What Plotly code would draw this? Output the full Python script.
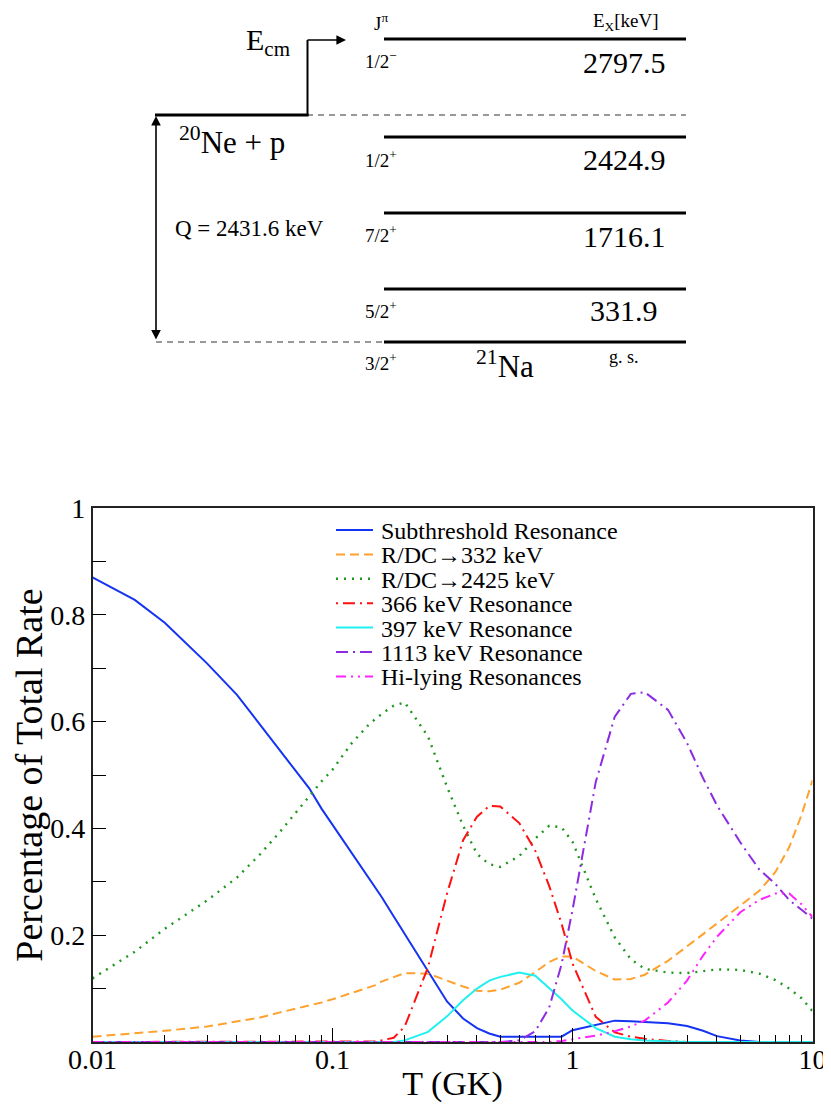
import plotly.graph_objects as go

# ---------------- data ----------------
T = [0.01, 0.015, 0.02, 0.03, 0.04, 0.05, 0.06, 0.07, 0.08, 0.09, 0.1, 0.11, 0.12, 0.13,
     0.14, 0.15, 0.16, 0.18, 0.2, 0.25, 0.3, 0.35, 0.4, 0.45, 0.5, 0.6, 0.7, 0.8, 0.9, 1.0,
     1.25, 1.5, 1.75, 2.0, 2.5, 3.0, 3.5, 4.0, 5.0, 6.0, 7.0, 8.0, 9.0, 10.0]

subthreshold = [0.870, 0.828, 0.785, 0.709, 0.650, 0.593, 0.548, 0.509, 0.475, 0.437, 0.407,
                0.380, 0.355, 0.332, 0.311, 0.291, 0.272, 0.235, 0.202, 0.133, 0.076, 0.044,
                0.026, 0.016, 0.010, 0.010, 0.010, 0.010, 0.010, 0.022, 0.032, 0.040, 0.039,
                0.038, 0.035, 0.030, 0.021, 0.011, 0.003, 0.0, 0.0, 0.0, 0.0, 0.0]

rdc_332 = [0.010, 0.016, 0.021, 0.029, 0.038, 0.046, 0.055, 0.062, 0.068, 0.074, 0.080,
           0.086, 0.092, 0.097, 0.102, 0.106, 0.113, 0.122, 0.129, 0.128, 0.115, 0.104,
           0.096, 0.095, 0.098, 0.111, 0.131, 0.150, 0.160, 0.160, 0.133, 0.117, 0.118,
           0.126, 0.152, 0.180, 0.202, 0.222, 0.255, 0.283, 0.318, 0.365, 0.425, 0.490]

rdc_2425 = [0.119, 0.169, 0.212, 0.265, 0.308, 0.352, 0.392, 0.428, 0.460, 0.488, 0.510,
            0.535, 0.559, 0.576, 0.592, 0.604, 0.614, 0.630, 0.636, 0.572, 0.478, 0.405,
            0.352, 0.333, 0.328, 0.348, 0.381, 0.405, 0.402, 0.375, 0.268, 0.196, 0.155,
            0.137, 0.130, 0.129, 0.133, 0.136, 0.135, 0.128, 0.116, 0.100, 0.082, 0.058]

res_366 = [0.0, 0.0, 0.0, 0.0, 0.0, 0.0, 0.0, 0.0, 0.0, 0.0, 0.0, 0.0, 0.0, 0.0, 0.0,
           0.001, 0.003, 0.008, 0.029, 0.140, 0.278, 0.378, 0.422, 0.442, 0.441, 0.410,
           0.358, 0.292, 0.222, 0.147, 0.047, 0.018, 0.010, 0.006, 0.002, 0.0, 0.0, 0.0,
           0.0, 0.0, 0.0, 0.0, 0.0, 0.0]

res_397 = [0.0, 0.0, 0.0, 0.0, 0.0, 0.0, 0.0, 0.0, 0.0, 0.0, 0.0, 0.0, 0.0, 0.0, 0.0,
           0.0, 0.0, 0.0, 0.003, 0.019, 0.048, 0.078, 0.100, 0.115, 0.122, 0.130, 0.124,
           0.101, 0.080, 0.059, 0.026, 0.010, 0.005, 0.003, 0.001, 0.0, 0.0, 0.0, 0.0,
           0.0, 0.0, 0.0, 0.0, 0.0]

res_1113 = [0.0, 0.0, 0.0, 0.0, 0.0, 0.0, 0.0, 0.0, 0.0, 0.0, 0.0, 0.0, 0.0, 0.0, 0.0,
            0.0, 0.0, 0.0, 0.0, 0.0, 0.0, 0.0, 0.0, 0.0, 0.0, 0.003, 0.020, 0.065, 0.145,
            0.247, 0.487, 0.609, 0.652, 0.655, 0.622, 0.560, 0.494, 0.443, 0.374, 0.323,
            0.296, 0.266, 0.247, 0.231]

hi_lying = [0.0, 0.0, 0.0, 0.0, 0.0, 0.0, 0.0, 0.0, 0.0, 0.0, 0.0, 0.0, 0.0, 0.0, 0.0,
            0.0, 0.0, 0.0, 0.0, 0.0, 0.0, 0.0, 0.0, 0.0, 0.0, 0.0, 0.0, 0.0, 0.002, 0.005,
            0.012, 0.020, 0.029, 0.040, 0.074, 0.115, 0.162, 0.197, 0.243, 0.266, 0.278,
            0.278, 0.258, 0.234]

series_names = ["Subthreshold Resonance", "R/DC\u2192332 keV", "R/DC\u21922425 keV",
                "366 keV Resonance", "397 keV Resonance", "1113 keV Resonance",
                "Hi-lying Resonances"]

y_tickvals = [0.1, 0.2, 0.3, 0.4, 0.5, 0.6, 0.7, 0.8, 0.9, 1.0]
y_ticktext = ["", "0.2", "", "0.4", "", "0.6", "", "0.8", "", "1"]
x_tickvals = [0.01, 0.1, 1, 10]
x_ticktext = ["0.01", "0.1", "1", "10"]

# level scheme (21Na)
level_energies = ["2797.5", "2424.9", "1716.1", "331.9", "g. s."]
level_spins = ["1/2<sup>\u2212</sup>", "1/2<sup>+</sup>", "7/2<sup>+</sup>",
               "5/2<sup>+</sup>", "3/2<sup>+</sup>"]
q_value_label = "Q = 2431.6 keV"

# ---------------- styles ----------------
styles = [
    dict(color="#1433f2", dash="solid", width=2),
    dict(color="#ffa12e", dash="9px,5px", width=2),
    dict(color="#1f961f", dash="2px,6px", width=2.4),
    dict(color="#ff1010", dash="2px,5px,12px,5px", width=2),
    dict(color="#22f0f0", dash="solid", width=2),
    dict(color="#8c2be0", dash="12px,5px,2px,5px", width=2),
    dict(color="#ff22ff", dash="10px,5px,2px,5px,2px,5px", width=2),
]
series = [subthreshold, rdc_332, rdc_2425, res_366, res_397, res_1113, hi_lying]

# page has an 8px body margin: the figure starts at page pixel (8, 8)
OFF = 8
W, H = 831 - OFF, 1111 - 2 * OFF
FONT = "Liberation Serif"


def px(x):  # page pixel -> paper x
    return (x - OFF) / W


def py(y):  # page pixel -> paper y
    return 1 - (y - OFF) / H


fig = go.Figure()
for name, vals, st in zip(series_names, series, styles):
    fig.add_trace(go.Scatter(x=T, y=vals, mode="lines", name=name, line=st,
                             showlegend=False))

minor_x = [m * 10 ** e for e in (-2, -1, 0) for m in range(2, 10)]

fig.update_layout(
    width=W, height=H, autosize=False,
    margin=dict(l=0, r=0, t=0, b=0),
    paper_bgcolor="white", plot_bgcolor="white",
    font=dict(family=FONT, color="black"),
    showlegend=False,
    xaxis=dict(type="log", domain=[px(92.5), px(812.5)], range=[-2, 1],
               tickmode="array", tickvals=x_tickvals, ticktext=x_ticktext,
               ticks="inside", ticklen=14, tickwidth=1.2, tickcolor="black",
               minor=dict(tickmode="array", tickvals=minor_x, ticks="inside",
                          ticklen=7, tickwidth=1.2, tickcolor="black", showgrid=False),
               showgrid=False, zeroline=False, showline=True, mirror=True,
               linecolor="#222", linewidth=1.5,
               tickfont=dict(family=FONT, size=28),
               ticklabeloverflow="allow", ticklabelstandoff=-8,
               title=dict(text="T (GK)", font=dict(family=FONT, size=34), standoff=0),
               automargin=False),
    yaxis=dict(domain=[py(1042), py(508)], range=[0, 1],
               tickmode="array", tickvals=y_tickvals, ticktext=y_ticktext,
               ticks="inside", ticklen=14, tickwidth=1.2, tickcolor="black",
               showgrid=False, zeroline=False, showline=True, mirror=True,
               linecolor="#222", linewidth=1.5,
               tickfont=dict(family=FONT, size=28),
               title=dict(text="Percentage of Total Rate", font=dict(family=FONT, size=38),
                          standoff=3),
               automargin=False),
)

shapes = []
ann = []


def hline(x0, x1, y, **line):
    shapes.append(dict(type="line", xref="paper", yref="paper", x0=px(x0), x1=px(x1),
                       y0=py(y), y1=py(y), line=line))


def txt(x, y, s, size, xanchor="center"):
    ann.append(dict(xref="paper", yref="paper", x=px(x), y=py(y), text=s, showarrow=False,
                    xanchor=xanchor, yanchor="middle",
                    font=dict(family=FONT, size=size, color="black")))


# ---------------- manual legend (tight row spacing as in the reference) ----------------
leg_y0, leg_dy = 530, 24.4
for i, (name, st) in enumerate(zip(series_names, styles)):
    yv = leg_y0 + i * leg_dy
    hline(336, 373, yv, color=st["color"], width=st["width"], dash=st["dash"])
    txt(379, yv + 1, name, 24, xanchor="left")

# ---------------- level diagram (schematic, pixel layout) ----------------
level_y = [39, 137, 213, 289, 342]
for yv in level_y:
    hline(384, 686, yv, color="black", width=3)
hline(307, 686, 115, color="#777", width=1.5, dash="6px,5px")
hline(156, 384, 342, color="#777", width=1.5, dash="6px,5px")
hline(155, 308.5, 115, color="black", width=3)
shapes.append(dict(type="line", xref="paper", yref="paper", x0=px(307.5), x1=px(307.5),
                   y0=py(116), y1=py(40), line=dict(color="black", width=2)))

# Ecm arrow
ann.append(dict(xref="paper", yref="paper", x=px(346), y=py(40), ax=-40, ay=0,
                text="", showarrow=True, arrowhead=2, arrowsize=1.2, arrowwidth=1.6,
                arrowcolor="black"))
# Q double arrow
ann.append(dict(xref="paper", yref="paper", x=px(156), y=py(116), ax=0, ay=225,
                text="", showarrow=True, arrowhead=2, startarrowhead=2,
                arrowside="end+start", arrowsize=1.2, arrowwidth=1.6, arrowcolor="black"))

txt(268, 42, "E<sub>cm</sub>", 30)
txt(381, 22, "J<sup>\u03c0</sup>", 19)
txt(626, 22, "E<sub>X</sub>[keV]", 19)
spin_y = [60, 159, 234, 310, 362]
energy_y = [62, 160, 236, 311, 357]
for sp, yv in zip(level_spins, spin_y):
    txt(381, yv, sp, 19)
for en, yv in zip(level_energies, energy_y):
    txt(624, yv, en, 30 if en[0].isdigit() else 18)
txt(232, 141, "<sup>20</sup>Ne + p", 31)
txt(249, 228, q_value_label, 23)
txt(505, 364, "<sup>21</sup>Na", 31)

fig.update_layout(shapes=shapes, annotations=ann)

fig.write_html("out.html", config={"displayModeBar": False})
